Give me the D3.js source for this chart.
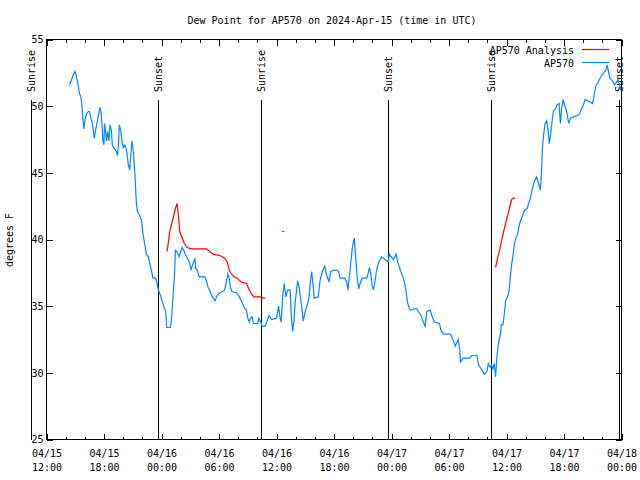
<!DOCTYPE html>
<html><head><meta charset="utf-8">
<script src="https://cdn.jsdelivr.net/npm/d3@7"></script>
<style>
body{margin:0;background:#fff}
svg text{font-family:"DejaVu Sans Mono",monospace;font-size:10px;fill:#000}
</style></head><body>
<svg id="c" width="640" height="480"></svg>
<script>
const title = "Dew Point for AP570 on 2024-Apr-15 (time in UTC)";
const yLabel = "degrees F";
const startTime = "2024-04-15T12:00:00Z";
const endTime = "2024-04-18T00:00:00Z";
const yTicks = [25, 30, 35, 40, 45, 50, 55];
const legendNames = ["AP570 Analysis", "AP570"];
const seriesColors = ["#ff0000", "#0088ff"];

// observed dew point: hours since 2024-04-15 12:00 UTC, degrees F
const dewHours = [2.40,2.58,2.75,2.96,3.10,3.27,3.45,3.55,3.66,3.73,3.84,3.90,4.00,4.15,4.36,4.49,4.63,4.78,4.88,4.99,
5.12,5.26,5.44,5.57,5.68,5.78,5.89,5.99,6.06,6.17,6.27,6.38,6.51,6.62,6.76,6.87,6.97,7.11,7.29,7.42,
7.53,7.60,7.74,7.87,8.02,8.18,8.33,8.44,8.54,8.68,8.78,8.92,9.02,9.13,9.23,9.30,9.38,9.48,9.72,9.93,
10.07,10.24,10.42,10.63,10.77,10.94,11.11,11.39,11.53,11.68,11.89,12.09,12.30,12.44,12.54,12.93,13.07,13.20,13.35,13.45,
13.62,13.83,14.14,14.32,14.60,14.77,14.95,15.08,15.23,15.40,15.50,15.57,15.75,15.92,16.52,16.69,16.86,17.04,17.22,17.38,
17.59,17.80,18.08,18.37,18.57,18.71,18.92,19.06,19.20,19.34,19.83,20.04,20.25,20.52,20.70,20.87,21.01,21.15,21.29,21.46,
21.59,22.03,22.16,22.37,22.48,22.82,23.21,23.49,24.01,24.22,24.36,24.49,24.64,24.81,24.98,25.16,25.43,25.54,25.68,25.82,
25.95,26.21,26.37,26.55,26.79,27.00,27.25,27.42,27.52,27.67,27.80,27.94,28.36,28.54,28.78,29.03,29.24,29.48,29.66,29.93,
30.28,30.49,30.63,31.15,31.33,31.46,31.60,31.75,31.88,32.02,32.12,32.27,32.40,32.58,32.72,32.93,33.42,33.55,33.69,33.84,
33.97,34.11,34.29,34.46,34.67,34.99,35.33,35.65,35.78,35.99,36.20,36.48,36.62,36.79,36.97,37.18,37.35,37.53,37.66,37.87,
38.02,38.29,38.64,38.81,39.09,39.33,39.51,39.69,40.03,40.21,40.48,41.01,41.15,41.42,42.12,42.30,42.47,42.65,42.83,42.96,
43.10,43.20,43.38,43.52,44.14,44.39,44.92,45.08,45.26,45.44,45.68,45.96,46.10,46.31,46.44,46.59,46.72,46.86,47.01,47.18,
47.35,47.46,47.63,47.77,47.91,48.12,48.26,48.40,48.53,48.68,48.82,48.99,49.16,49.34,49.52,49.73,49.89,50.14,50.31,50.49,
50.73,50.94,51.15,51.35,51.53,51.64,51.74,51.88,52.02,52.19,52.34,52.47,52.61,52.76,52.89,53.10,53.28,53.49,53.62,53.76,
53.90,54.04,54.25,54.49,54.67,55.01,55.37,55.61,55.82,56.03,56.21,56.42,56.76,56.97,57.10,57.21,57.31,57.63,57.91,58.15,
58.36,58.50,58.61,58.78,59.06,59.27,59.48,59.62,59.79,59.90];
const dewValues = [51.6,51.9,52.3,52.6,52.3,51.7,50.9,50.8,50.3,49.7,48.7,48.3,48.9,49.4,49.6,49.6,49.1,48.7,48.2,47.6,
48.2,48.7,49.4,49.9,49.6,48.8,47.4,47.1,48.7,48.1,47.4,48.1,47.4,48.6,48.2,47.1,46.9,46.8,46.6,46.3,
47.4,48.6,48.2,47.4,46.9,47.1,46.8,46.2,45.6,45.2,46.2,47.4,46.9,45.9,44.8,43.8,42.7,42.1,41.8,41.4,
40.4,39.7,38.9,38.7,38.2,37.7,37.1,37.1,36.7,36.2,35.8,35.3,34.9,34.6,33.4,33.4,34.2,35.8,37.2,39.2,
39.1,38.7,39.4,39.2,38.7,38.5,38.2,37.7,38.1,38.4,38.6,37.8,37.7,37.2,37.2,36.9,36.4,36.2,35.8,35.6,
35.4,35.8,36.0,36.1,36.2,36.6,37.4,37.1,36.4,36.1,36.0,35.8,35.5,35.1,34.8,34.7,34.1,33.8,34.1,34.2,
33.7,33.7,34.1,33.8,33.5,33.5,34.3,34.0,34.1,35.0,34.2,33.8,35.7,36.7,35.7,36.2,36.2,34.4,33.1,33.9,
35.3,36.9,36.4,35.4,33.9,34.6,35.2,35.8,36.7,37.6,36.7,35.6,35.7,36.9,37.6,38.0,37.3,36.8,37.6,37.7,
37.7,37.6,37.1,37.1,36.8,36.2,37.2,38.2,39.2,39.8,40.1,38.6,37.3,36.3,36.7,37.1,37.1,37.4,37.9,37.4,
36.6,36.2,36.9,37.8,38.3,38.7,38.5,38.3,38.9,38.7,38.5,38.9,38.4,38.0,37.6,37.2,36.8,36.1,35.3,34.8,
34.7,34.8,34.8,34.6,34.3,33.8,33.5,34.6,34.7,34.3,33.8,33.7,33.2,32.9,32.9,32.7,32.4,32.0,32.3,32.5,
31.9,30.8,31.0,31.1,31.1,31.3,31.3,30.6,30.4,30.2,29.9,30.1,30.7,30.4,30.6,30.3,30.7,29.7,31.3,32.3,
32.8,33.6,33.6,34.4,35.4,35.7,36.1,37.2,38.1,38.8,39.7,40.1,40.4,41.1,41.5,41.9,42.2,42.3,42.7,43.1,
43.9,44.4,44.7,44.2,43.7,44.9,46.8,47.9,48.7,48.9,48.2,47.2,47.9,48.9,49.6,49.8,50.1,50.2,48.7,49.9,
50.5,50.1,49.7,48.7,49.1,49.2,49.3,49.4,49.8,50.1,50.5,50.4,50.3,50.2,50.6,51.1,51.5,51.9,52.3,52.5,
52.7,53.1,52.7,52.1,51.9,51.6,51.8,52.0,51.6,51.2];

// analysis: hours since 2024-04-15 12:00 UTC, degrees F (null = gap)
const anaHours = [12.58,12.68,12.86,13.07,13.28,13.48,13.62,13.77,13.90,14.11,14.39,14.67,15.13,16.70,17.04,17.38,18.08,18.61,18.85,19.13,
19.55,19.89,20.35,20.87,21.11,21.40,21.64,22.26,22.61,22.82,23.7,
24.60,24.81,35.0,
46.86,47.07,47.28,47.49,47.70,47.91,48.12,48.33,48.54,48.68,48.89];
const anaValues = [39.1,39.6,40.6,41.2,41.8,42.4,42.7,41.8,40.6,40.2,39.7,39.4,39.3,39.3,39.1,38.9,38.8,38.6,38.3,37.6,
37.2,37.1,36.8,36.7,36.3,35.9,35.7,35.7,35.6,35.6,null,
40.6,40.6,null,
37.9,38.6,39.2,39.9,40.6,41.2,41.8,42.4,43.0,43.1,43.1];

const sunriseTimes = ["2024-04-15T10:21:00Z", "2024-04-16T10:24:00Z", "2024-04-17T10:26:00Z"];
const sunsetTimes = ["2024-04-15T23:38:00Z", "2024-04-16T23:41:00Z", "2024-04-17T23:47:00Z"];

const svg = d3.select("#c");
const L = 46.5, R = 621.5, T = 39.5, B = 439.5;
const t0 = new Date(startTime);
const toDate = h => new Date(t0.getTime() + h * 3600e3);
const x = d3.scaleUtc().domain([t0, new Date(endTime)]).range([L, R]);
const y = d3.scaleLinear().domain([yTicks[0], yTicks[yTicks.length - 1]]).range([B, T]);

// minor & major ticks, mirrored, inward
function tickAxes(every, size, labels) {
  const gb = svg.append("g").attr("transform", `translate(0,${B})`)
    .call(d3.axisBottom(x).ticks(d3.utcHour.every(every)).tickSize(-size).tickFormat(labels ? d3.utcFormat("%m/%d") : ""));
  const gt = svg.append("g").attr("transform", `translate(0,${T})`)
    .call(d3.axisTop(x).ticks(d3.utcHour.every(every)).tickSize(-size).tickFormat(""));
  [gb, gt].forEach(g => { g.select(".domain").remove(); g.selectAll("line").attr("stroke", "#000").attr("shape-rendering", "crispEdges"); });
  return gb;
}
tickAxes(2, 3, false);
const gx = tickAxes(6, 6, true);
gx.selectAll(".tick text").each(function(d) {
  const t = d3.select(this);
  t.text(null).attr("y", null).attr("dy", null);
  t.append("tspan").attr("x", 0).attr("y", 17).text(d3.utcFormat("%m/%d")(d));
  t.append("tspan").attr("x", 0).attr("y", 31).text(d3.utcFormat("%H:%M")(d));
});

const gyl = svg.append("g").attr("transform", `translate(${L},0)`)
  .call(d3.axisLeft(y).tickValues(yTicks).tickSize(-6).tickPadding(3).tickFormat(d3.format("d")));
const gyr = svg.append("g").attr("transform", `translate(${R},0)`)
  .call(d3.axisRight(y).tickValues(yTicks).tickSize(-6).tickFormat(""));
[gyl, gyr].forEach(g => { g.select(".domain").remove(); g.selectAll("line").attr("stroke", "#000").attr("shape-rendering", "crispEdges"); });

// frame
svg.append("rect").attr("x", L).attr("y", T).attr("width", R - L).attr("height", B - T)
  .attr("fill", "none").attr("stroke", "#000").attr("shape-rendering", "crispEdges");

// sunrise / sunset markers
const sunEvents = sunriseTimes.map(s => ({t: new Date(s), label: "Sunrise"}))
  .concat(sunsetTimes.map(s => ({t: new Date(s), label: "Sunset"})));
const topY = B - 0.85 * (B - T);
const sg = svg.append("g");
sunEvents.forEach(e => {
  const xx = Math.round(x(e.t)) + 0.5;
  sg.append("line").attr("x1", xx).attr("x2", xx).attr("y1", topY).attr("y2", B)
    .attr("stroke", "#000").attr("shape-rendering", "crispEdges");
  sg.append("text").attr("transform", `translate(${xx},92) rotate(-90)`)
    .attr("dy", "0.35em").attr("text-anchor", "start").text(e.label);
});

// series
const dew = dewHours.map((h, i) => ({t: toDate(h), v: dewValues[i]}));
const ana = anaHours.map((h, i) => ({t: toDate(h), v: anaValues[i]}));
const line = d3.line().defined(d => d.v != null).x(d => x(d.t)).y(d => y(d.v));
svg.append("path").datum(ana).attr("d", line).attr("fill", "none")
  .attr("stroke", seriesColors[0]).attr("stroke-width", 1.2);
svg.append("path").datum(dew).attr("d", line).attr("fill", "none")
  .attr("stroke", seriesColors[1]).attr("stroke-width", 1.2);

// legend
legendNames.forEach((n, i) => {
  const cy = 49.5 + i * 13;
  svg.append("text").attr("x", 574).attr("y", cy + 4).attr("text-anchor", "end").text(n);
  svg.append("line").attr("x1", 582).attr("x2", 609).attr("y1", cy).attr("y2", cy)
    .attr("stroke", seriesColors[i]).attr("stroke-width", 1.2);
});

// title & y label
svg.append("text").attr("x", 332).attr("y", 24).attr("text-anchor", "middle").text(title);
svg.append("text").attr("transform", "translate(13,240) rotate(-90)").attr("text-anchor", "middle").text(yLabel);
</script>
</body></html>
